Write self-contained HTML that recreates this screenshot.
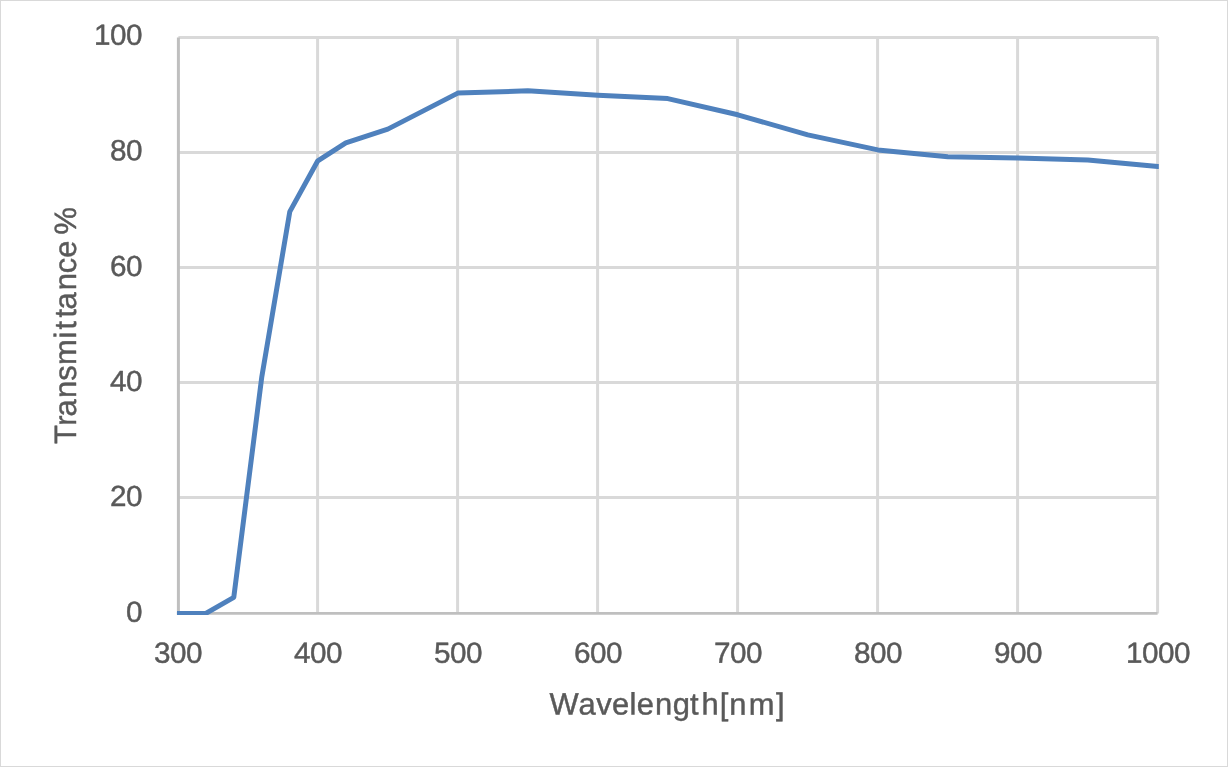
<!DOCTYPE html>
<html><head><meta charset="utf-8"><title>Transmittance chart</title>
<style>
html,body{margin:0;padding:0;background:#fff;}
body{width:1228px;height:767px;overflow:hidden;font-family:"Liberation Sans",sans-serif;}
svg{display:block;will-change:transform;}
text{text-rendering:geometricPrecision;font-family:"Liberation Sans",sans-serif;font-size:31.2px;fill:#595959;stroke:#595959;stroke-width:0.45px;stroke-linejoin:round;}
.d text{font-size:29.1px;}
text.t{font-size:30.9px;}
</style></head><body>
<svg width="1228" height="767" viewBox="0 0 1228 767">
<rect x="0" y="0" width="1228" height="767" fill="#ffffff"/>
<rect x="0.5" y="0.5" width="1227" height="766" fill="none" stroke="#d9d9d9" stroke-width="1"/>
<g stroke="#d9d9d9" stroke-width="3" fill="none">
<line x1="178.4" y1="37.4" x2="1158.0" y2="37.4"/>
<line x1="178.4" y1="152.4" x2="1159.1" y2="152.4"/>
<line x1="178.4" y1="267.4" x2="1159.1" y2="267.4"/>
<line x1="178.4" y1="382.4" x2="1159.1" y2="382.4"/>
<line x1="178.4" y1="497.4" x2="1159.1" y2="497.4"/>
<line x1="317.6" y1="35.9" x2="317.6" y2="613.4"/>
<line x1="457.6" y1="35.9" x2="457.6" y2="613.4"/>
<line x1="597.6" y1="35.9" x2="597.6" y2="613.4"/>
<line x1="737.6" y1="35.9" x2="737.6" y2="613.4"/>
<line x1="877.6" y1="35.9" x2="877.6" y2="613.4"/>
<line x1="1017.6" y1="35.9" x2="1017.6" y2="613.4"/>
<line x1="1157.6" y1="37.0" x2="1157.6" y2="613.4"/>
</g>
<g stroke="#bfbfbf" stroke-width="3" fill="none">
<line x1="178.4" y1="37.4" x2="178.4" y2="614.6"/>
<line x1="176.9" y1="613.35" x2="1157.6" y2="613.35" stroke-width="2.6"/>
</g>
<clipPath id="pc"><rect x="177" y="30" width="981.8" height="584.9"/></clipPath>
<polyline clip-path="url(#pc)" points="175.0,613.4 205.8,613.4 233.8,597.3 261.8,376.8 289.8,211.6 317.8,160.8 345.8,142.8 387.8,129.1 457.8,93.1 527.8,90.8 597.8,95.3 667.8,98.6 737.8,114.8 807.8,134.9 877.8,149.9 947.8,156.7 1017.8,157.9 1087.8,159.9 1157.8,166.4 1160.6,166.7" fill="none" stroke="#4f81bd" stroke-width="5" stroke-linejoin="round" stroke-linecap="butt"/>
<g class="d" text-anchor="end" letter-spacing="-0.5">
<text transform="translate(142.09 44.8) rotate(0.05) scale(1.02 1)">100</text>
<text transform="translate(142.09 160.3) rotate(0.05) scale(1.02 1)">80</text>
<text transform="translate(142.09 276.0) rotate(0.05) scale(1.02 1)">60</text>
<text transform="translate(142.09 391.1) rotate(0.05) scale(1.02 1)">40</text>
<text transform="translate(142.09 506.0) rotate(0.05) scale(1.02 1)">20</text>
<text transform="translate(142.09 621.8) rotate(0.05) scale(1.02 1)">0</text>
</g>
<g class="d" text-anchor="middle" letter-spacing="-0.5">
<text transform="translate(177.94 662.7) rotate(0.05) scale(1.02 1)">300</text>
<text transform="translate(317.94 662.7) rotate(0.05) scale(1.02 1)">400</text>
<text transform="translate(457.94 662.7) rotate(0.05) scale(1.02 1)">500</text>
<text transform="translate(597.95 662.7) rotate(0.05) scale(1.02 1)">600</text>
<text transform="translate(737.95 662.7) rotate(0.05) scale(1.02 1)">700</text>
<text transform="translate(877.95 662.7) rotate(0.05) scale(1.02 1)">800</text>
<text transform="translate(1017.95 662.7) rotate(0.05) scale(1.02 1)">900</text>
<text transform="translate(1157.94 662.7) rotate(0.05) scale(1.02 1)">1000</text>
</g>
<text class="t" transform="rotate(0.04 666 714.6)" y="714.6" x="549.55 578.40 596.23 612.04 629.41 636.69 655.13 672.80 690.04 701.49 719.83 729.28 748.72 776.09">Wavelength[nm]</text>
<text class="t" transform="translate(76.3 326.0) rotate(-90)" y="0" x="-117.93 -99.66 -90.50 -72.12 -54.80 -39.08 -12.42 -3.56 8.44 16.50 35.68 52.68 68.24 79.93 91.61">Transmittance %</text>
</svg></body></html>
